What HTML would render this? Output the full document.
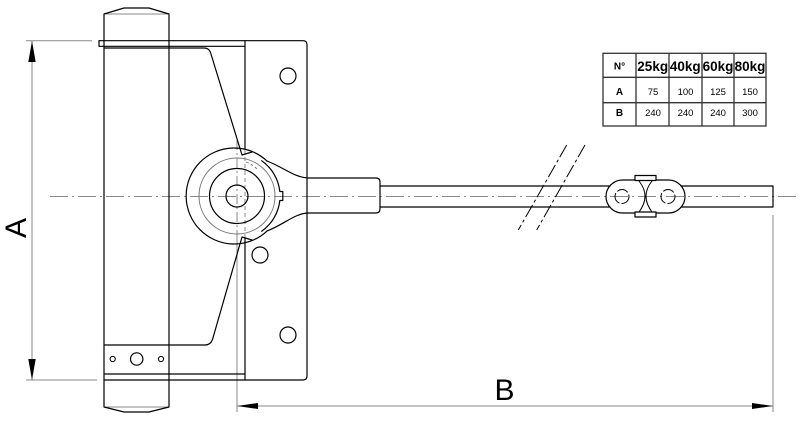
<!DOCTYPE html>
<html><head><meta charset="utf-8"><style>
html,body{margin:0;padding:0;background:#fff;}
svg{display:block;}
</style></head><body>
<svg width="800" height="421" viewBox="0 0 800 421" xmlns="http://www.w3.org/2000/svg">
<rect x="0" y="0" width="800" height="421" fill="#fff"/>

<!-- center lines -->
<g fill="none" stroke="#8a8a8a" stroke-width="1">
  <path d="M50 196.5 H797" stroke-dasharray="18 4 2 4"/>
  <path d="M237 140 V240" stroke-dasharray="10 3 2 3"/>
  <path d="M237 240 V412"/>
  <path d="M245 150 V238" stroke-dasharray="4 3"/>
  <!-- dimension A -->
  <path d="M32 41 V380"/>
  <path d="M26 40.7 H92"/>
  <path d="M26 380 H97"/>
  <!-- dimension B -->
  <path d="M237 406 H773"/>
  <path d="M773 215 V412"/>
  <!-- cylinder cap inner lines -->
  <path d="M105 14 H168"/>
  <path d="M105 407 H168"/>
</g>

<!-- arrowheads -->
<g fill="#000" stroke="none">
  <polygon points="32,41 28.3,62 35.7,62"/>
  <polygon points="32,380 28.3,359 35.7,359"/>
  <polygon points="237,406 258,403 258,409"/>
  <polygon points="773,406 752,403 752,409"/>
</g>

<g fill="none" stroke="#000" stroke-width="1.2" stroke-linejoin="round" stroke-linecap="round">
  <!-- cylinder -->
  <path d="M104 407 L104 14 L124 8 L149 8 L169 14 L169 407 L149 412 L124 412 Z"/>
  <!-- plate outline -->
  <path d="M99 40.7 H303 Q307 40.7 307 44.7 V376 Q307 380 303 380 H104"/>
  <path d="M99 40.7 V46.3 H245"/>
  <path d="M245 40.7 V149"/>
  <path d="M245 238 V380"/>
  <path d="M104 374 H245"/>
  <!-- bracket -->
  <path d="M104 48 H204 Q209 48 210.5 52.5 L242 155 L252 152"/>
  <path d="M252 240 L242 237 L212.5 339.5 Q210.5 345 205 345 H104"/>
  <!-- plate holes -->
  <circle cx="288" cy="76" r="8"/>
  <circle cx="260" cy="255" r="8"/>
  <circle cx="288" cy="335" r="8"/>
  <!-- small holes -->
  <circle cx="112.7" cy="359" r="2.6" stroke-width="1"/>
  <circle cx="136.7" cy="359" r="6.2"/>
  <circle cx="161" cy="359" r="2.6" stroke-width="1"/>

  <!-- hub -->
  <path d="M267 161 A48 48 0 1 0 267 231"/>
  <circle cx="237" cy="196" r="27.5"/>
  <circle cx="237" cy="196" r="11"/>
  <path d="M261.7 160.8 A43 43 0 0 1 279.8 191.5 L282.8 191.5 L282.8 200.5 L279.8 200.5 A43 43 0 0 1 261.7 231.2"/>
  <!-- arm -->
  <path d="M267 161 C285 168 295 178 309 178 H376 Q380 178 380 182 V209 Q380 213 376 213 H309 C295 213 285 224 267 231"/>
  <!-- rod -->
  <path d="M380 186 H610"/>
  <path d="M380 207 H610"/>
  <path d="M681 186 H773 V207 H681"/>
  <!-- link -->
  <path d="M622.5 180 H668.5 A16.5 16.5 0 0 1 668.5 213 H622.5 A16.5 16.5 0 0 1 622.5 180 Z"/>
  <rect x="635" y="175.5" width="21" height="5" fill="#fff"/>
  <rect x="635" y="212" width="21" height="5" fill="#fff"/>
  <path d="M639 181 Q651 196 639 212" stroke-width="1"/>
  <path d="M652 181 Q640 196 652 212" stroke-width="1"/>
  <circle cx="622" cy="196.5" r="7" stroke-width="1" stroke-dasharray="11 3"/>
  <circle cx="668" cy="196.5" r="7" stroke-width="1" stroke-dasharray="11 3"/>
</g>

<!-- hub gray circle -->
<circle cx="237" cy="196" r="38" fill="none" stroke="#777" stroke-width="1"/>
<path d="M246 162 A30 30 0 0 1 258 170" fill="none" stroke="#777" stroke-width="0.9" stroke-dasharray="3 2"/>

<!-- break marks -->
<g fill="none" stroke="#000" stroke-width="1" stroke-dasharray="14 3 3 3">
  <path d="M566.7 145 L518.3 230"/>
  <path d="M585 145 L536.7 230"/>
</g>

<!-- letters -->
<g font-family="Liberation Sans, Arial, sans-serif" fill="#000">
  <text x="0" y="0" transform="translate(26,228) rotate(-90)" text-anchor="middle" font-size="30">A</text>
  <text x="504.5" y="400" text-anchor="middle" font-size="30">B</text>
</g>

<!-- table -->
<g fill="none" stroke="#333" stroke-width="1.3">
  <rect x="603" y="53.3" width="163" height="72.7"/>
  <path d="M636 53.3 V126 M669 53.3 V126 M702 53.3 V126 M734 53.3 V126"/>
  <path d="M603 77.3 H766 M603 102.7 H766"/>
</g>
<g font-family="Liberation Sans, Arial, sans-serif" fill="#000" text-anchor="middle">
  <text x="619.5" y="69.3" font-size="10" font-weight="bold">N°</text>
  <text x="652.7" y="71" font-size="13.5" font-weight="bold">25kg</text>
  <text x="685.3" y="71" font-size="13.5" font-weight="bold">40kg</text>
  <text x="718" y="71" font-size="13.5" font-weight="bold">60kg</text>
  <text x="750" y="71" font-size="13.5" font-weight="bold">80kg</text>
  <text x="619.5" y="95" font-size="10" font-weight="bold">A</text>
  <text x="653" y="95" font-size="9.5">75</text>
  <text x="685.5" y="95" font-size="9.5">100</text>
  <text x="718" y="95" font-size="9.5">125</text>
  <text x="750" y="95" font-size="9.5">150</text>
  <text x="619.5" y="116" font-size="10" font-weight="bold">B</text>
  <text x="653" y="116" font-size="9.5">240</text>
  <text x="685.5" y="116" font-size="9.5">240</text>
  <text x="718" y="116" font-size="9.5">240</text>
  <text x="750" y="116" font-size="9.5">300</text>
</g>
</svg>
</body></html>
